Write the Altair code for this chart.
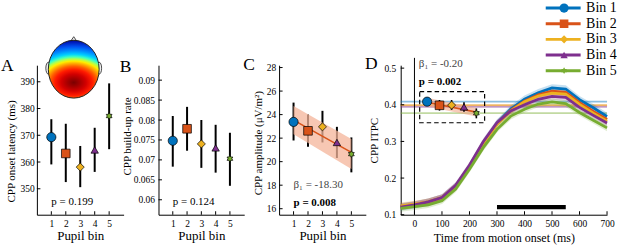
import base64
import altair as alt
import pandas as pd

FONT = "Liberation Serif"

# ---------------- shared bin definitions ----------------
bin_labels = ["Bin 1", "Bin 2", "Bin 3", "Bin 4", "Bin 5"]
bin_x = [1, 2, 3, 4, 5]
bin_colors = ["#0072BD", "#D95319", "#EDB120", "#7E2F8E", "#77AC30"]
HEXAGRAM = ("M0,-1L0.289,-0.5L0.866,-0.5L0.577,0L0.866,0.5L0.289,0.5L0,1"
            "L-0.289,0.5L-0.866,0.5L-0.577,0L-0.866,-0.5L-0.289,-0.5Z")
bin_shapes = ["circle", "square", "diamond", "triangle-up", HEXAGRAM]
bin_sizes = [85, 45, 85, 75, 85]

# ---------------- Panel A: CPP onset latency ----------------
lat_mean = [369.3, 363.2, 358.1, 364.5, 377.2]
lat_lo = [359.1, 352.5, 350.6, 356.3, 364.8]
lat_hi = [376.0, 374.3, 366.0, 372.8, 389.4]
lat_ticks = [350, 360, 370, 380, 390]

# ---------------- Panel B: CPP build-up rate ----------------
rate_mean = [0.0748, 0.0778, 0.0740, 0.0730, 0.0703]
rate_lo = [0.0683, 0.0723, 0.0680, 0.0668, 0.0635]
rate_hi = [0.0810, 0.0833, 0.0800, 0.0788, 0.0768]
rate_ticks = [0.06, 0.065, 0.07, 0.075, 0.08, 0.085, 0.09]

# ---------------- Panel C: CPP amplitude ----------------
amp_mean = [23.38, 22.62, 22.96, 21.63, 20.64]
amp_lo = [21.80, 21.27, 21.63, 20.31, 19.09]
amp_hi = [25.02, 24.00, 24.32, 22.96, 22.06]
amp_ticks = [16, 18, 20, 22, 24, 26, 28]
amp_fit_x = [1, 5]
amp_fit = [23.53, 20.79]
amp_fit_lo = [22.34, 19.37]
amp_fit_hi = [24.74, 21.92]

# ---------------- Panel D: CPP ITPC time course ----------------
time_ms = [-50, 0, 50, 100, 150, 200, 250, 300, 350, 400, 450, 500, 550, 600, 650, 700]
itpc_bin1 = [0.121, 0.127, 0.134, 0.146, 0.178, 0.232, 0.296, 0.350, 0.388, 0.415, 0.433, 0.446, 0.443, 0.414, 0.392, 0.368]
itpc_bin2 = [0.123, 0.128, 0.135, 0.146, 0.178, 0.232, 0.295, 0.348, 0.385, 0.410, 0.427, 0.437, 0.434, 0.406, 0.382, 0.360]
itpc_bin3 = [0.124, 0.129, 0.135, 0.146, 0.177, 0.231, 0.294, 0.347, 0.383, 0.408, 0.424, 0.432, 0.429, 0.401, 0.377, 0.355]
itpc_bin4 = [0.121, 0.127, 0.135, 0.147, 0.180, 0.235, 0.299, 0.351, 0.383, 0.400, 0.415, 0.423, 0.420, 0.393, 0.371, 0.350]
itpc_bin5 = [0.117, 0.122, 0.127, 0.138, 0.170, 0.224, 0.283, 0.333, 0.369, 0.388, 0.402, 0.408, 0.403, 0.379, 0.358, 0.337]
itpc_sem = [0.010, 0.009, 0.009, 0.009, 0.009]
itpc_ticks = [0.1, 0.2, 0.3, 0.4, 0.5]
time_ticks = [0, 100, 200, 300, 400, 500, 600, 700]

inset_t = [46, 91, 135, 180, 225]
inset_itpc = [0.4085, 0.3985, 0.3990, 0.3940, 0.3770]
inset_lo = [0.398, 0.384, 0.386, 0.381, 0.363]
inset_hi = [0.419, 0.413, 0.413, 0.407, 0.390]
inset_fit_t = [46, 225]
inset_fit = [0.407, 0.380]
inset_fit_lo = [0.395, 0.368]
inset_fit_hi = [0.419, 0.391]
inset_box = {"t0": [19], "t1": [255], "v0": [0.351], "v1": [0.436]}
stim_bar = {"t0": [300], "t1": [550], "v": [0.1207]}
onset_line = {"t": [0], "v0": [0.1], "v1": [0.528]}

# ---------------- annotations (data coordinates) ----------------
letters = {"A": (-2.48, 394.1), "B": (-2.72, 0.0920), "C": (-2.48, 27.76), "D": (-180.0, 0.4966)}
ann_A = {"x": [1.0], "y": [343.8], "text": ["p = 0.199"]}
ann_B = {"x": [1.0], "y": [0.0586], "text": ["p = 0.124"]}
ann_C_beta = {"x": [1.0], "y": [17.73], "text": ["β₁ = -18.30"]}
ann_C_p = {"x": [1.0], "y": [16.2], "text": ["p = 0.008"]}
ann_D_beta = {"x": [16], "y": [0.5035], "text": ["β₁ = -0.20"]}
ann_D_p = {"x": [16], "y": [0.4546], "text": ["p = 0.002"]}
topo_pos = {"x": [2.55], "y": [395.45]}

# ---------------- scalp topography (decorative image) ----------------
topo_stops = [(0, "#7a0000"), (0.1, "#a50000"), (0.2, "#d40000"), (0.3, "#ff1a00"),
              (0.38, "#ff6000"), (0.45, "#ffb000"), (0.5, "#ffee00"), (0.55, "#b0ff50"),
              (0.6, "#40ffc0"), (0.66, "#00d0ff"), (0.74, "#0090ff"), (0.84, "#0050f0"),
              (0.93, "#0020c0"), (1.0, "#000090")]
stops_svg = "".join(f'<stop offset="{o}" stop-color="{c}"/>' for o, c in topo_stops)
svg = (
    '<svg xmlns="http://www.w3.org/2000/svg" width="58" height="64" viewBox="0 0 58 64">'
    '<defs><radialGradient id="g" gradientUnits="userSpaceOnUse" cx="29" cy="47.4" r="43" '
    'gradientTransform="translate(29 47.4) scale(1.45 1) translate(-29 -47.4)">'
    + stops_svg +
    '</radialGradient></defs>'
    '<ellipse cx="3.6" cy="33" rx="2.6" ry="6" fill="#eeeeee" stroke="#222" stroke-width="0.8"/>'
    '<ellipse cx="54.4" cy="33" rx="2.6" ry="6" fill="#eeeeee" stroke="#222" stroke-width="0.8"/>'
    '<path d="M26 5.8 L29 1.4 L32 5.8 Z" fill="#eeeeee" stroke="#222" stroke-width="0.8"/>'
    '<ellipse cx="29" cy="34" rx="25.5" ry="29" fill="url(#g)" stroke="#222" stroke-width="1"/>'
    '</svg>'
)
topo_url = "data:image/svg+xml;base64," + base64.b64encode(svg.encode()).decode()

# ---------------- helpers ----------------
fill_scale = alt.Scale(domain=bin_labels, range=bin_colors)
shape_scale = alt.Scale(domain=bin_labels, range=bin_shapes)
size_scale = alt.Scale(domain=bin_labels, range=bin_sizes)


def y_axis(values, fmt, title, tx, ty, pad):
    return alt.Axis(values=values, tickCount=50, format=fmt, title=title, titleX=tx, titleY=ty,
                    titleBaseline="middle", titleAlign="center", titleAngle=270,
                    labelPadding=pad, labelOverlap=False, labelFlush=False)


def x_axis(values, title, pad, ty=24.7, fmt="d", tsize=13):
    return alt.Axis(values=values, tickCount=50, format=fmt, title=title, titleY=ty,
                    titleBaseline="alphabetic", labelPadding=pad, titleFontSize=tsize,
                    labelOverlap=False, labelFlush=False)


def text_layer(d, xs, ys, size=11, weight="normal", color="black"):
    return alt.Chart(pd.DataFrame(d)).mark_text(
        font=FONT, fontSize=size, fontWeight=weight, color=color,
        align="left", baseline="alphabetic"
    ).encode(x=alt.X("x:Q", scale=xs), y=alt.Y("y:Q", scale=ys), text="text:N")


def letter_layer(letter, xs, ys):
    lx, ly = letters[letter]
    return text_layer({"x": [lx], "y": [ly], "text": [letter]}, xs, ys, size=17.5)


def inward_ticks(xvals, yvals, xs, ys, xmin, ymin):
    """MATLAB-style tick marks drawn inside the axes, at the tick values."""
    tx = alt.Chart(pd.DataFrame({"tv": xvals, "base": [ymin] * len(xvals)})).mark_tick(
        orient="vertical", size=3.5, thickness=1, yOffset=-1.75, color="black", opacity=1
    ).encode(x=alt.X("tv:Q", scale=xs), y=alt.Y("base:Q", scale=ys))
    ty = alt.Chart(pd.DataFrame({"tv": yvals, "base": [xmin] * len(yvals)})).mark_tick(
        orient="horizontal", size=3.5, thickness=1, xOffset=1.75, color="black", opacity=1
    ).encode(x=alt.X("base:Q", scale=xs), y=alt.Y("tv:Q", scale=ys))
    return tx, ty


def dot_panel(mean, lo, hi, ydom, yvals, yfmt, ytitle, ytx, yty, ypad):
    df = pd.DataFrame({"pupil": bin_x, "label": bin_labels, "m": mean, "lo": lo, "hi": hi})
    xs = alt.Scale(domain=[0, 6], nice=False, zero=False)
    ys = alt.Scale(domain=ydom, nice=False, zero=False)
    xax = x_axis(bin_x, "Pupil bin", 3.5)
    yax = y_axis(yvals, yfmt, ytitle, ytx, yty, ypad)
    base = alt.Chart(df)
    err = base.mark_rule(color="black", strokeWidth=2).encode(
        x=alt.X("pupil:Q", scale=xs, axis=xax),
        y=alt.Y("lo:Q", scale=ys, axis=yax),
        y2="hi:Q",
    )
    pts = base.mark_point(filled=True, opacity=1, stroke="black", strokeWidth=0.7).encode(
        x=alt.X("pupil:Q", scale=xs, axis=xax),
        y=alt.Y("m:Q", scale=ys, axis=yax),
        fill=alt.Fill("label:N", scale=fill_scale, legend=None),
        shape=alt.Shape("label:N", scale=shape_scale, legend=None),
        size=alt.Size("label:N", scale=size_scale, legend=None),
    )
    tx, ty = inward_ticks(bin_x, yvals, xs, ys, 0, ydom[0])
    return xs, ys, err, pts, tx, ty


# ---------------- Panel A ----------------
xsA, ysA, errA, ptsA, txA, tyA = dot_panel(lat_mean, lat_lo, lat_hi, [340.3, 396.2], lat_ticks, "d",
                                           "CPP onset latency (ms)", -25, 86, 2.7)
topo = alt.Chart(pd.DataFrame({**topo_pos, "url": [topo_url]})).mark_image(
    width=58, height=64, align="center", baseline="middle"
).encode(x=alt.X("x:Q", scale=xsA), y=alt.Y("y:Q", scale=ysA), url="url:N")
panelA = alt.layer(
    errA, ptsA, txA, tyA, topo,
    text_layer(ann_A, xsA, ysA),
    letter_layer("A", xsA, ysA),
).properties(width=87, height=150)

# ---------------- Panel B ----------------
xsB, ysB, errB, ptsB, txB, tyB = dot_panel(rate_mean, rate_lo, rate_hi, [0.05625, 0.09375], rate_ticks, "~g",
                                           "CPP build-up rate", -31, 71, 4)
panelB = alt.layer(
    errB, ptsB, txB, tyB,
    text_layer(ann_B, xsB, ysB),
    letter_layer("B", xsB, ysB),
).properties(width=86, height=150)

# ---------------- Panel C ----------------
xsC, ysC, errC, ptsC, txC, tyC = dot_panel(amp_mean, amp_lo, amp_hi, [15.49, 28.2], amp_ticks, "d",
                                           "CPP amplitude (μV/m²)", -20.5, 77.7, 3.5)
fitC = pd.DataFrame({"x": amp_fit_x, "m": amp_fit, "lo": amp_fit_lo, "hi": amp_fit_hi})
bandC = alt.Chart(fitC).mark_area(color="#F4B49A", opacity=0.75).encode(
    x=alt.X("x:Q", scale=xsC), y=alt.Y("lo:Q", scale=ysC, stack=None), y2="hi:Q")
lineC = alt.Chart(fitC).mark_line(color="#D95319", strokeWidth=1.6).encode(
    x=alt.X("x:Q", scale=xsC), y=alt.Y("m:Q", scale=ysC))
panelC = alt.layer(
    errC, bandC, lineC, ptsC, txC, tyC,
    text_layer(ann_C_beta, xsC, ysC, color="#444444"),
    text_layer(ann_C_p, xsC, ysC, weight="bold"),
    letter_layer("C", xsC, ysC),
).properties(width=87, height=150)

# ---------------- Panel D ----------------
rows = []
for lab, vals, sem in zip(bin_labels, [itpc_bin1, itpc_bin2, itpc_bin3, itpc_bin4, itpc_bin5], itpc_sem):
    for t, v in zip(time_ms, vals):
        rows.append({"t": t, "v": v, "lo": v - sem, "hi": v + sem, "bin": lab})
curves = pd.DataFrame(rows)
inset = pd.DataFrame({"t": inset_t, "v": inset_itpc, "lo": inset_lo, "hi": inset_hi,
                      "bin": bin_labels, "bin_n": bin_x})
fitD = pd.DataFrame({"t": inset_fit_t, "m": inset_fit, "lo": inset_fit_lo, "hi": inset_fit_hi})

xsD = alt.Scale(domain=[-50, 700], nice=False, zero=False)
ysD = alt.Scale(domain=[0.1, 0.508], nice=False, zero=False)
xaxD = x_axis(time_ticks, "Time from motion onset (ms)", 4, ty=26.5, tsize=12)
yaxD = y_axis(itpc_ticks, "~g", "CPP ITPC", -26, 75.2, 5)

legend_lines = alt.Legend(
    orient="none", legendX=144, legendY=-64.3, title=None, padding=0,
    symbolType="stroke", symbolSize=1225, symbolStrokeWidth=3, symbolOpacity=1,
    symbolOffset=0, labelOffset=4, rowPadding=1.7, clipHeight=14,
    labelFont=FONT, labelFontSize=14, labelColor="black",
)
legend_marks = alt.Legend(
    orient="none", legendX=156.9, legendY=-64.3, title=None, padding=0,
    symbolStrokeColor="black", symbolStrokeWidth=0.7, symbolOpacity=1,
    symbolOffset=0, labelOffset=4, rowPadding=1.7, clipHeight=14,
    labelFont=FONT, labelFontSize=14, labelOpacity=0,
)
color_enc = alt.Color("bin:N", scale=alt.Scale(domain=bin_labels, range=bin_colors), legend=legend_lines)
# marker legend keyed on bin number so that it stays separate from the line legend
fill_n = alt.Scale(domain=bin_x, range=bin_colors)
shape_n = alt.Scale(domain=bin_x, range=bin_shapes)
size_n = alt.Scale(domain=bin_x, range=bin_sizes)
XD = alt.X("t:Q", scale=xsD, axis=xaxD)

linesD = alt.Chart(curves).mark_line(strokeWidth=2.8).encode(
    x=XD, y=alt.Y("v:Q", scale=ysD, axis=yaxD), color=color_enc)
hlines = alt.Chart(inset).mark_rule(strokeWidth=1.8, opacity=0.45).encode(
    y=alt.Y("v:Q", scale=ysD, axis=yaxD), color=color_enc)
bandsD = alt.Chart(curves).mark_area(opacity=0.22).encode(
    x=XD, y=alt.Y("lo:Q", scale=ysD, axis=yaxD, stack=None), y2="hi:Q", color=color_enc)
onset = alt.Chart(pd.DataFrame(onset_line)).mark_rule(color="black", strokeWidth=1).encode(
    x=alt.X("t:Q", scale=xsD), y=alt.Y("v0:Q", scale=ysD), y2="v1:Q")
bar = alt.Chart(pd.DataFrame(stim_bar)).mark_rule(color="black", strokeWidth=4.5).encode(
    x=alt.X("t0:Q", scale=xsD), x2="t1:Q", y=alt.Y("v:Q", scale=ysD))
box = alt.Chart(pd.DataFrame(inset_box)).mark_rect(
    fillOpacity=0, stroke="black", strokeWidth=1.2, strokeDash=[4.5, 3]
).encode(x=alt.X("t0:Q", scale=xsD), x2="t1:Q", y=alt.Y("v0:Q", scale=ysD), y2="v1:Q")
bandD = alt.Chart(fitD).mark_area(color="#F2A98A", opacity=0.6).encode(
    x=alt.X("t:Q", scale=xsD), y=alt.Y("lo:Q", scale=ysD, stack=None), y2="hi:Q")
lineD = alt.Chart(fitD).mark_line(color="#D95319", strokeWidth=1.6).encode(
    x=alt.X("t:Q", scale=xsD), y=alt.Y("m:Q", scale=ysD))
errD = alt.Chart(inset).mark_rule(color="black", strokeWidth=1.6).encode(
    x=alt.X("t:Q", scale=xsD), y=alt.Y("lo:Q", scale=ysD), y2="hi:Q")
ptsD = alt.Chart(inset).mark_point(filled=True, opacity=1, stroke="black", strokeWidth=0.7).encode(
    x=alt.X("t:Q", scale=xsD), y=alt.Y("v:Q", scale=ysD),
    fill=alt.Fill("bin_n:O", scale=fill_n, legend=legend_marks),
    shape=alt.Shape("bin_n:O", scale=shape_n, legend=legend_marks),
    size=alt.Size("bin_n:O", scale=size_n, legend=legend_marks),
)
txD, tyD = inward_ticks(time_ticks, itpc_ticks, xsD, ysD, -50, 0.1)
panelD = alt.layer(
    hlines, bandsD, linesD, onset, bar, box, bandD, lineD, errD, ptsD, txD, tyD,
    text_layer(ann_D_beta, xsD, ysD, color="#444444"),
    text_layer(ann_D_p, xsD, ysD, weight="bold"),
    letter_layer("D", xsD, ysD),
).properties(width=207, height=150)

chart = alt.hconcat(panelA, panelB, panelC, panelD, spacing=35, bounds="flush").resolve_scale(
    color="independent", fill="independent", shape="independent", size="independent"
).resolve_legend(
    color="independent", fill="independent", shape="independent", size="independent"
).properties(
    padding={"left": 1, "top": 0, "right": 0, "bottom": 4},
    background="white",
).configure_view(stroke=None).configure_axis(
    domainColor="black", domainWidth=1, ticks=False, tickSize=0, grid=False,
    labelFont=FONT, labelFontSize=9.5, labelColor="black", labelFlush=False, labelOverlap=False,
    titleFont=FONT, titleFontWeight="normal", titleColor="black",
)

chart.save("out.html", embed_options={"renderer": "svg", "actions": False})
